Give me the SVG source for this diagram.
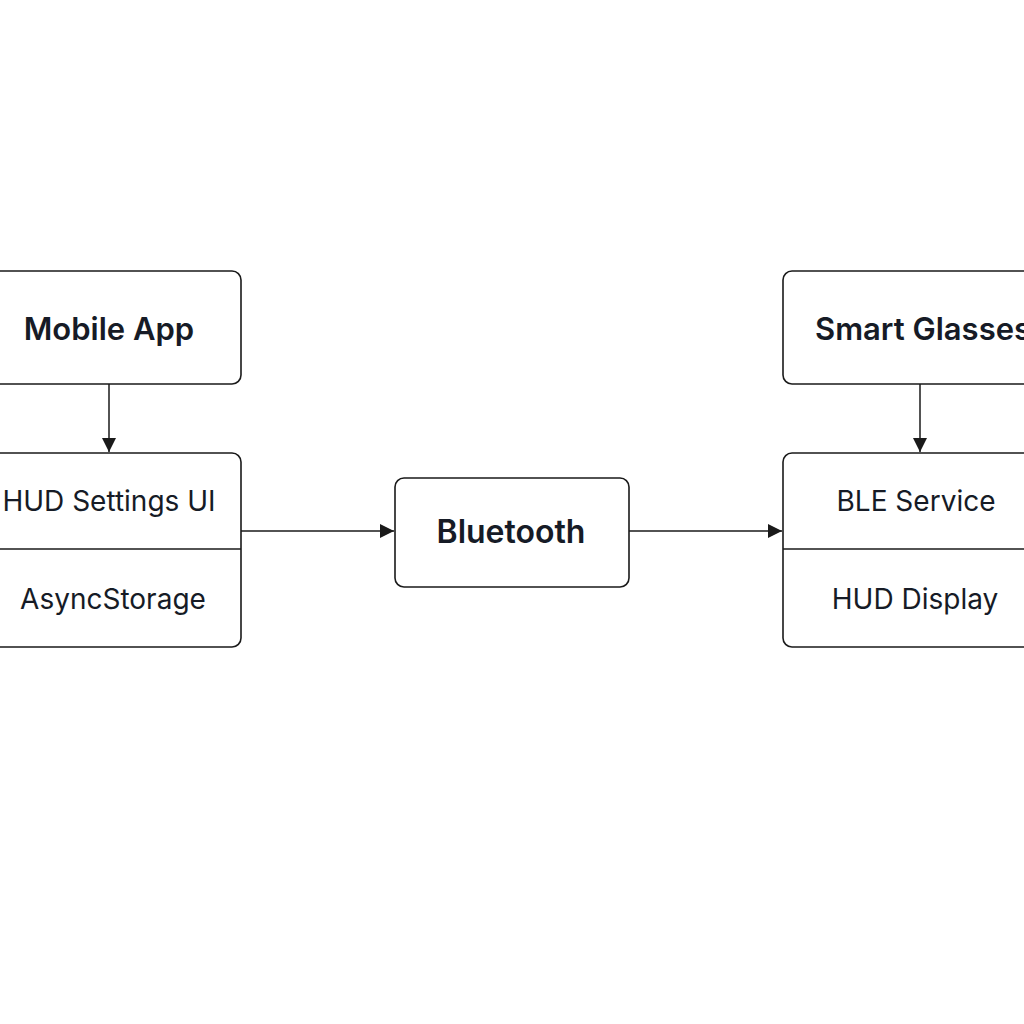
<svg xmlns="http://www.w3.org/2000/svg" width="1024" height="1024" viewBox="0 0 1024 1024">
<defs>
<style>
.box{fill:#fff;stroke:#1a1a1a;stroke-width:1.6}
.div{stroke:#1a1a1a;stroke-width:1.4}
.t{font-family:Inter,"Liberation Sans",sans-serif;fill:#161b26;text-anchor:middle;dominant-baseline:central}
.h{font-size:31px;font-weight:600}
.r{font-size:28px;font-weight:400}
.c{stroke:#1a1a1a;stroke-width:1.5;fill:none}
</style>
<marker id="ah" viewBox="0 0 10 10" refX="10" refY="5" markerWidth="14" markerHeight="14" markerUnits="userSpaceOnUse" orient="auto">
<path d="M0,0 L10,5 L0,10 z" fill="#1a1a1a"/>
</marker>
</defs>
<rect width="1024" height="1024" fill="#fff"/>
<g id="mobile-app">
<rect class="box" x="-30" y="271" width="271" height="113" rx="9"/>
<text class="t h" x="109" y="328">Mobile App</text>
</g>
<g id="mobile-components">
<rect class="box" x="-30" y="453" width="271" height="194" rx="9"/>
<line class="div" x1="-30" y1="549" x2="241" y2="549"/>
<text class="t r" x="109" y="501">HUD Settings UI</text>
<text class="t r" x="113" y="599">AsyncStorage</text>
</g>
<g id="bluetooth">
<rect class="box" x="395" y="478" width="234" height="109" rx="9"/>
<text class="t h" x="511" y="531" style="font-size:32px">Bluetooth</text>
</g>
<g id="smart-glasses">
<rect class="box" x="783" y="271" width="280" height="113" rx="9"/>
<text class="t h" x="923" y="328">Smart Glasses</text>
</g>
<g id="glasses-components">
<rect class="box" x="783" y="453" width="280" height="194" rx="9"/>
<line class="div" x1="783" y1="549" x2="1063" y2="549"/>
<text class="t r" x="916" y="501">BLE Service</text>
<text class="t r" x="915" y="599">HUD Display</text>
</g>
<g id="connectors">
<line class="c" x1="109" y1="384" x2="109" y2="452" marker-end="url(#ah)"/>
<line class="c" x1="920" y1="384" x2="920" y2="452" marker-end="url(#ah)"/>
<line class="c" x1="241" y1="531" x2="394" y2="531" marker-end="url(#ah)"/>
<line class="c" x1="629" y1="531" x2="782" y2="531" marker-end="url(#ah)"/>
</g>
</svg>
